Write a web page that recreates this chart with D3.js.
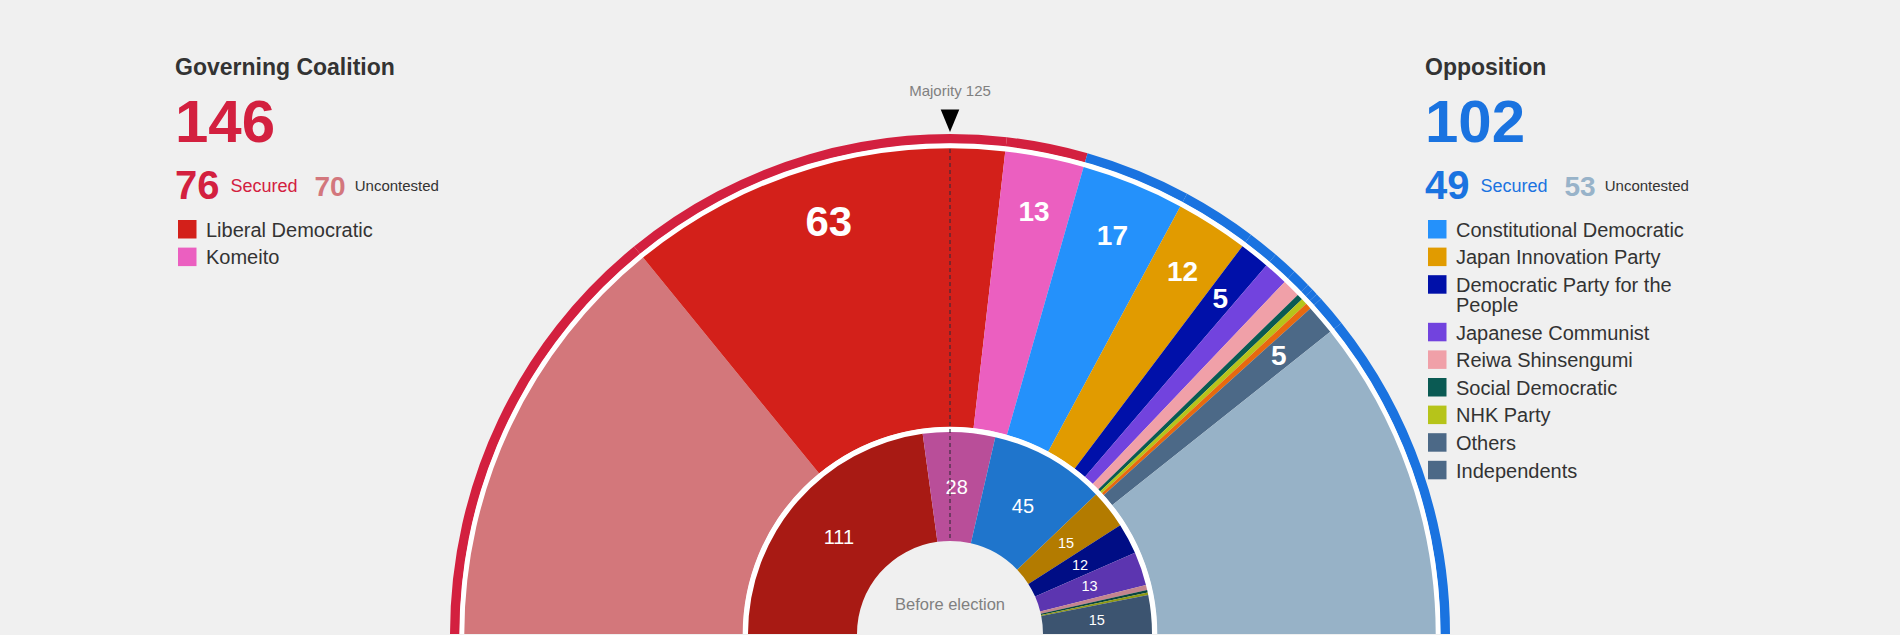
<!DOCTYPE html>
<html lang="en">
<head>
  <meta charset="utf-8">
  <title>House of Councillors election</title>
  <style>
    body {
      margin: 0;
      background: #f0f0f0;
    }

    svg {
      display: block;
      font-family: "Liberation Sans", Arial, sans-serif;
    }

    .title { font-size: 23px; font-weight: bold; fill: #333; }
    .total { font-size: 60px; font-weight: bold; }
    .sec-num { font-size: 40px; font-weight: bold; }
    .sec-lbl { font-size: 18px; }
    .unc-num { font-size: 28px; font-weight: bold; }
    .unc-lbl { font-size: 15px; fill: #333; }
    .legend text { font-size: 20px; fill: #333; }
    .seat-label { fill: #fff; text-anchor: middle; }
    .note { fill: #808080; text-anchor: middle; }
  </style>
</head>
<body>
  <div id="chart"></div>

  <script src="https://d3js.org/d3.v7.min.js"></script>
  <script>
    // Results after the election (outer ring), in seat order left to right
    var resultParties = ["Coalition uncontested", "Liberal Democratic", "Komeito",
      "Constitutional Democratic", "Japan Innovation Party", "Democratic Party for the People",
      "Japanese Communist", "Reiwa Shinsengumi", "Social Democratic", "NHK Party",
      "Sanseito", "Independents", "Opposition uncontested"];
    var resultSeats = [70, 63, 13, 17, 12, 5, 4, 3, 1, 1, 1, 5, 53];
    var resultBloc = ["coalition", "coalition", "coalition", "opposition", "opposition",
      "opposition", "opposition", "opposition", "opposition", "opposition", "opposition",
      "opposition", "opposition"];

    // Seats before the election (inner ring)
    var beforeParties = ["Liberal Democratic", "Komeito", "Constitutional Democratic",
      "Japan Innovation Party", "Democratic Party for the People", "Japanese Communist",
      "Reiwa Shinsengumi", "Social Democratic", "NHK Party", "Independents"];
    var beforeSeats = [111, 28, 45, 15, 12, 13, 2, 1, 1, 15];

    var coalitionLegend = ["Liberal Democratic", "Komeito"];
    var oppositionLegend = ["Constitutional Democratic", "Japan Innovation Party",
      "Democratic Party for the People", "Japanese Communist", "Reiwa Shinsengumi",
      "Social Democratic", "NHK Party", "Others", "Independents"];
    var majority = 125;

    var color = d3.scaleOrdinal()
      .domain(["Coalition uncontested", "Liberal Democratic", "Komeito", "Constitutional Democratic",
        "Japan Innovation Party", "Democratic Party for the People", "Japanese Communist",
        "Reiwa Shinsengumi", "Social Democratic", "NHK Party", "Sanseito", "Independents",
        "Others", "Opposition uncontested"])
      .range(["#d3777b", "#d3201a", "#eb5fc0", "#2491fb", "#e19b00", "#0010a9", "#7243de",
        "#f0a0a8", "#0a5a53", "#b6c41a", "#e8690f", "#4c6987", "#4c6987", "#97b2c7"]);

    var beforeColor = d3.scaleOrdinal()
      .domain(beforeParties)
      .range(["#a81a14", "#b94e99", "#1f75cc", "#b37b00", "#000d85", "#5c35b0",
        "#c4858f", "#084540", "#8e9915", "#3c5470"]);

    var blocColor = { coalition: "#d3203f", opposition: "#1a73e0" };
    var uncColor = { coalition: "#d3777d", opposition: "#98b3c9" };

    var width = 1900, height = 635,
        cx = 950, cy = 634;

    var svg = d3.select("#chart").append("svg")
      .attr("width", width)
      .attr("height", height);

    var results = resultParties.map(function(p, i) {
      return { party: p, seats: resultSeats[i], bloc: resultBloc[i] };
    });
    var before = beforeParties.map(function(p, i) {
      return { party: p, seats: beforeSeats[i] };
    });

    var pie = d3.pie()
      .sort(null)
      .value(function(d) { return d.seats; })
      .startAngle(-Math.PI / 2)
      .endAngle(Math.PI / 2);

    var g = svg.append("g")
      .attr("transform", "translate(" + cx + "," + cy + ")");

    var blocArc = d3.arc().innerRadius(490.3).outerRadius(500);
    var resultArc = d3.arc().innerRadius(207).outerRadius(485.7);
    var beforeArc = d3.arc().innerRadius(93).outerRadius(202);
    var labelArc = d3.arc().innerRadius(431).outerRadius(431);
    var half = d3.arc().startAngle(-Math.PI / 2).endAngle(Math.PI / 2);

    var resultPie = pie(results);

    // bloc ring
    g.selectAll(".bloc")
      .data(resultPie)
      .enter().append("path")
      .attr("class", "bloc")
      .attr("d", blocArc)
      .attr("fill", function(d) { return blocColor[d.data.bloc]; });

    g.append("path")
      .attr("d", half.innerRadius(485.3).outerRadius(490.6)())
      .attr("fill", "#fff");

    // election results
    g.selectAll(".result")
      .data(resultPie)
      .enter().append("path")
      .attr("class", "result")
      .attr("d", resultArc)
      .attr("fill", function(d) { return color(d.data.party); });

    g.append("path")
      .attr("d", half.innerRadius(201.7).outerRadius(207.3)())
      .attr("fill", "#fff");

    // before election
    var beforePie = pie(before);
    g.selectAll(".before")
      .data(beforePie)
      .enter().append("path")
      .attr("class", "before")
      .attr("d", beforeArc)
      .attr("fill", function(d) { return beforeColor(d.data.party); });

    g.selectAll(".result-label")
      .data(resultPie.filter(function(d) {
        return d.data.seats >= 5 && d.data.party.indexOf("uncontested") < 0;
      }))
      .enter().append("text")
      .attr("class", "seat-label")
      .attr("transform", function(d) { return "translate(" + labelArc.centroid(d) + ")"; })
      .attr("dy", "0.36em")
      .style("font-weight", "bold")
      .style("font-size", function(d) { return d.data.seats >= 50 ? "42px" : "28px"; })
      .text(function(d) { return d.data.seats; });

    g.selectAll(".before-label")
      .data(beforePie.filter(function(d) { return d.data.seats >= 5; }))
      .enter().append("text")
      .attr("class", "seat-label")
      .attr("transform", function(d) { return "translate(" + beforeArc.centroid(d) + ")"; })
      .attr("dy", "0.36em")
      .style("font-size", function(d) { return d.data.seats >= 20 ? "20px" : "14.5px"; })
      .text(function(d) { return d.data.seats; });

    // majority marker
    g.append("line")
      .attr("x1", 0).attr("x2", 0)
      .attr("y1", -485).attr("y2", -93)
      .attr("stroke", "#3a2a3a")
      .attr("stroke-opacity", 0.75)
      .attr("stroke-width", 1.5)
      .attr("stroke-dasharray", "4,3");

    g.append("path")
      .attr("d", "M-9.3,-524.5L9.3,-524.5L0,-502Z")
      .attr("fill", "#000");

    g.append("text")
      .attr("class", "note")
      .attr("y", -538)
      .style("font-size", "15px")
      .text("Majority " + majority);

    g.append("text")
      .attr("class", "note")
      .attr("y", -24)
      .style("font-size", "16.5px")
      .text("Before election");

    // side panels
    function panel(x, title, bloc, legendNames) {
      var rows = results.filter(function(d) { return d.bloc === bloc; });
      var total = d3.sum(rows, function(d) { return d.seats; });
      var unc = d3.sum(rows.filter(function(d) { return d.party.indexOf("uncontested") >= 0; }),
        function(d) { return d.seats; });
      var sec = total - unc;

      var p = svg.append("g").attr("transform", "translate(" + x + ",0)");
      p.append("text").attr("class", "title").attr("y", 75).text(title);
      p.append("text").attr("class", "total").attr("y", 141.5)
        .attr("fill", blocColor[bloc]).text(total);

      var cursor = 0;
      var parts = [
        { cls: "sec-num", y: 199, fill: blocColor[bloc], text: sec, gap: 11 },
        { cls: "sec-lbl", y: 191.5, fill: blocColor[bloc], text: "Secured", gap: 17 },
        { cls: "unc-num", y: 195.5, fill: uncColor[bloc], text: unc, gap: 9 },
        { cls: "unc-lbl", y: 191, fill: "#333", text: "Uncontested", gap: 0 }
      ];
      parts.forEach(function(t) {
        var el = p.append("text").attr("class", t.cls)
          .attr("x", cursor).attr("y", t.y)
          .attr("fill", t.fill).text(t.text);
        cursor += el.node().getComputedTextLength() + t.gap;
      });

      var lg = p.append("g").attr("class", "legend");
      var top = 220;
      legendNames.forEach(function(name) {
        lg.append("rect")
          .attr("x", 3).attr("y", top)
          .attr("width", 18.5).attr("height", 18.5)
          .attr("fill", color(name));
        var t = lg.append("text").attr("x", 31).attr("y", top + 16.7);
        var words = name.split(" "), line = [], lines = 1;
        var ts = t.append("tspan").attr("x", 31);
        words.forEach(function(w) {
          line.push(w);
          ts.text(line.join(" "));
          if (ts.node().getComputedTextLength() > 250 && line.length > 1) {
            line.pop();
            ts.text(line.join(" "));
            line = [w];
            ts = t.append("tspan").attr("x", 31).attr("dy", 20).text(w);
            lines++;
          }
        });
        top += 27.6 + (lines - 1) * 20;
      });
    }

    panel(175, "Governing Coalition", "coalition", coalitionLegend);
    panel(1425, "Opposition", "opposition", oppositionLegend);
  </script>
</body>
</html>
